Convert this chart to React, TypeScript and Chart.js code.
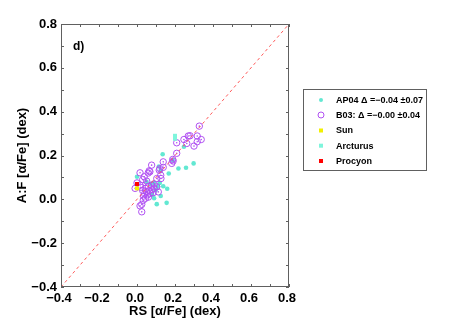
import React, { useEffect, useRef } from "react";
import { Chart, registerables } from "chart.js";

Chart.register(...registerables);

// ---- data ----
const ap04X = [0.135, 0.188, 0.167, 0.218, 0.258, 0.298, 0.247, 0.0, 0.138, 0.159, 0.089, 0.098, 0.125, 0.104, 0.156, 0.12, 0.11, 0.07, 0.05, 0.08, 0.09, 0.125, 0.115];
const ap04Y = [0.206, 0.179, 0.118, 0.141, 0.144, 0.164, 0.24, 0.103, 0.06, 0.048, 0.075, 0.042, 0.015, -0.022, -0.016, 0.075, 0.06, 0.07, 0.08, 0.02, 0.005, 0.13, 0.15];

const b03X = [0.328, 0.338, 0.317, 0.317, 0.30, 0.27, 0.262, 0.247, 0.279, 0.209, 0.209, 0.188, 0.183, 0.19, 0.138, 0.138, 0.117, 0.125, 0.126, 0.12, 0.077, 0.068, 0.059, 0.064, 0.016, 0.038, 0.051, 0.03, 0.016, -0.01, 0.0, 0.104, 0.104, 0.112, 0.077, 0.06, 0.045, 0.03, 0.05, 0.065, 0.08, 0.09, 0.04, 0.055, 0.07, 0.085, 0.035, 0.045, 0.06, 0.033, 0.025, 0.016, 0.025, 0.02, 0.09];
const b03Y = [0.334, 0.273, 0.289, 0.263, 0.243, 0.289, 0.255, 0.273, 0.29, 0.258, 0.21, 0.182, 0.164, 0.175, 0.171, 0.146, 0.133, 0.11, 0.095, 0.14, 0.156, 0.126, 0.12, 0.13, 0.121, 0.103, 0.083, 0.09, 0.065, 0.05, 0.075, 0.095, 0.057, 0.034, 0.065, 0.06, 0.05, 0.04, 0.035, 0.04, 0.045, 0.05, 0.025, 0.02, 0.028, 0.03, 0.015, 0.005, 0.01, -0.004, -0.023, -0.03, -0.057, 0.055, 0.07];

const sunX = [0.0];
const sunY = [0.05];
const arcturusX = [0.2, 0.2];
const arcturusY = [0.29, 0.276];
const procyonX = [0.0];
const procyonY = [0.07];

const oneToOne = [-0.4, 0.8];

const legendLabels = [
  "AP04 \u0394 =\u22120.04 \u00b10.07",
  "B03: \u0394 =\u22120.00 \u00b10.04",
  "Sun",
  "Arcturus",
  "Procyon",
];
const panelLabel = "d)";
const xTitle = "RS [\u03b1/Fe] (dex)";
const yTitle = "A:F [\u03b1/Fe] (dex)";
const axisMin = -0.4;
const axisMax = 0.8;

// ---- styles ----
const CYAN = "#62e8d2";
const AQUA = "#7ff5dc";
const PURPLE = "#b050f2";
const YELLOW = "#f2f000";
const RED = "#ff0000";
const FRAME = "#606060";
const FONT = "'Liberation Sans', Arial, Helvetica, sans-serif";

const pts = (xs: number[], ys: number[]) => xs.map((x, i) => ({ x, y: ys[i] }));

const fmt = (v: number) => {
  if (Math.abs(v) < 1e-9) return "0.0";
  return v.toFixed(1).replace("-", "\u2212");
};

const framePlugin = {
  id: "frameTicks",
  afterDraw(chart: any) {
    const { ctx, chartArea: a, scales } = chart;
    const xs = scales.x;
    const ys = scales.y;
    ctx.save();
    ctx.strokeStyle = FRAME;
    ctx.lineWidth = 1;
    ctx.strokeRect(a.left + 0.5, a.top + 0.5, a.right - a.left - 1, a.bottom - a.top - 1);
    const tl = 3;
    ctx.beginPath();
    for (let i = -4; i <= 8; i++) {
      const v = i / 10;
      const px = Math.round(xs.getPixelForValue(v)) + 0.5;
      ctx.moveTo(px, a.bottom);
      ctx.lineTo(px, a.bottom - tl);
      ctx.moveTo(px, a.top);
      ctx.lineTo(px, a.top + tl);
      const py = Math.round(ys.getPixelForValue(v)) + 0.5;
      ctx.moveTo(a.left, py);
      ctx.lineTo(a.left + tl, py);
      ctx.moveTo(a.right, py);
      ctx.lineTo(a.right - tl, py);
    }
    ctx.stroke();

    // panel label
    ctx.fillStyle = "#000";
    ctx.font = `bold 12px ${FONT}`;
    ctx.textAlign = "left";
    ctx.textBaseline = "middle";
    ctx.fillText(panelLabel, a.left + 12, a.top + 23);

    // legend box
    const lx = 303.5, ly = 89.5, lw = 123, lh = 81;
    ctx.strokeStyle = FRAME;
    ctx.strokeRect(lx, ly, lw, lh);
    const rows = [100, 115, 130.5, 145.7, 161];
    const mx = 321;
    ctx.font = `bold 9px ${FONT}`;
    rows.forEach((ry, i) => {
      if (i === 0) {
        ctx.fillStyle = CYAN;
        ctx.beginPath();
        ctx.arc(mx, ry, 2, 0, Math.PI * 2);
        ctx.fill();
      } else if (i === 1) {
        ctx.strokeStyle = PURPLE;
        ctx.beginPath();
        ctx.arc(mx, ry, 3, 0, Math.PI * 2);
        ctx.stroke();
      } else {
        ctx.fillStyle = i === 2 ? YELLOW : i === 3 ? AQUA : RED;
        ctx.fillRect(mx - 2, ry - 2, 4, 4);
      }
      ctx.fillStyle = "#000";
      ctx.fillText(legendLabels[i], 336, ry + 0.5);
    });
    ctx.restore();
  },
};

export default function App() {
  const ref = useRef<HTMLCanvasElement | null>(null);
  useEffect(() => {
    if (!ref.current) return;
    const chart = new Chart(ref.current, {
      type: "scatter",
      data: {
        datasets: [
          {
            label: "1:1",
            type: "line",
            data: pts(oneToOne, oneToOne),
            borderColor: "#ff5a5a",
            borderWidth: 1,
            borderDash: [3, 3],
            pointRadius: 0,
            fill: false,
            order: 0,
          } as any,
          {
            label: legendLabels[0],
            data: pts(ap04X, ap04Y),
            backgroundColor: CYAN,
            borderWidth: 0,
            pointRadius: 2.3,
            order: 3,
          },
          {
            label: legendLabels[1],
            data: pts(b03X, b03Y),
            backgroundColor: "rgba(0,0,0,0)",
            borderColor: PURPLE,
            borderWidth: 1,
            pointRadius: 3.2,
            order: 2,
          },
          {
            label: "B03 centre",
            data: pts(b03X, b03Y),
            backgroundColor: PURPLE,
            borderWidth: 0,
            pointRadius: 0.8,
            order: 2,
          },
          {
            label: legendLabels[3],
            data: pts(arcturusX, arcturusY),
            backgroundColor: AQUA,
            borderWidth: 0,
            pointStyle: "rect",
            pointRadius: 2.8,
            order: 1,
          },
          {
            label: legendLabels[2],
            data: pts(sunX, sunY),
            backgroundColor: YELLOW,
            borderWidth: 0,
            pointStyle: "rect",
            pointRadius: 2.8,
            order: 1,
          },
          {
            label: legendLabels[4],
            data: pts(procyonX, procyonY),
            backgroundColor: RED,
            borderWidth: 0,
            pointStyle: "rect",
            pointRadius: 2.8,
            order: 1,
          },
        ],
      },
      options: {
        responsive: false,
        animation: false,
        events: [],
        layout: { padding: { left: 0, right: 174, top: 24, bottom: 0 } },
        plugins: { legend: { display: false }, tooltip: { enabled: false } },
        scales: {
          x: {
            type: "linear",
            min: axisMin,
            max: axisMax,
            grid: { display: false, drawTicks: false },
            border: { display: false },
            ticks: {
              stepSize: 0.2,
              padding: 4,
              labelOffset: -2,
              color: "#000",
              font: { family: FONT, size: 13, weight: "bold" },
              callback: (v: any) => fmt(Number(v)),
              maxRotation: 0,
              autoSkip: false,
            },
            title: {
              display: true,
              text: xTitle,
              color: "#000",
              font: { family: FONT, size: 13, weight: "bold", lineHeight: 1 },
              padding: { top: 0, bottom: 6 },
            },
            afterFit: (s: any) => {
              s.height = 37;
            },
          },
          y: {
            type: "linear",
            min: axisMin,
            max: axisMax,
            grid: { display: false, drawTicks: false },
            border: { display: false },
            ticks: {
              stepSize: 0.2,
              padding: 4,
              color: "#000",
              font: { family: FONT, size: 13, weight: "bold" },
              callback: (v: any) => fmt(Number(v)),
              autoSkip: false,
            },
            title: {
              display: true,
              text: yTitle,
              color: "#000",
              font: { family: FONT, size: 13, weight: "bold", lineHeight: 1 },
              padding: { top: 16, bottom: 0 },
            },
            afterFit: (s: any) => {
              s.width = 61;
            },
          },
        },
      },
      plugins: [framePlugin],
    });
    return () => chart.destroy();
  }, []);
  return (
    <div style={{ position: "absolute", left: 0, top: 0, width: 463, height: 324 }}>
      <canvas ref={ref} width={463} height={324} />
    </div>
  );
}
